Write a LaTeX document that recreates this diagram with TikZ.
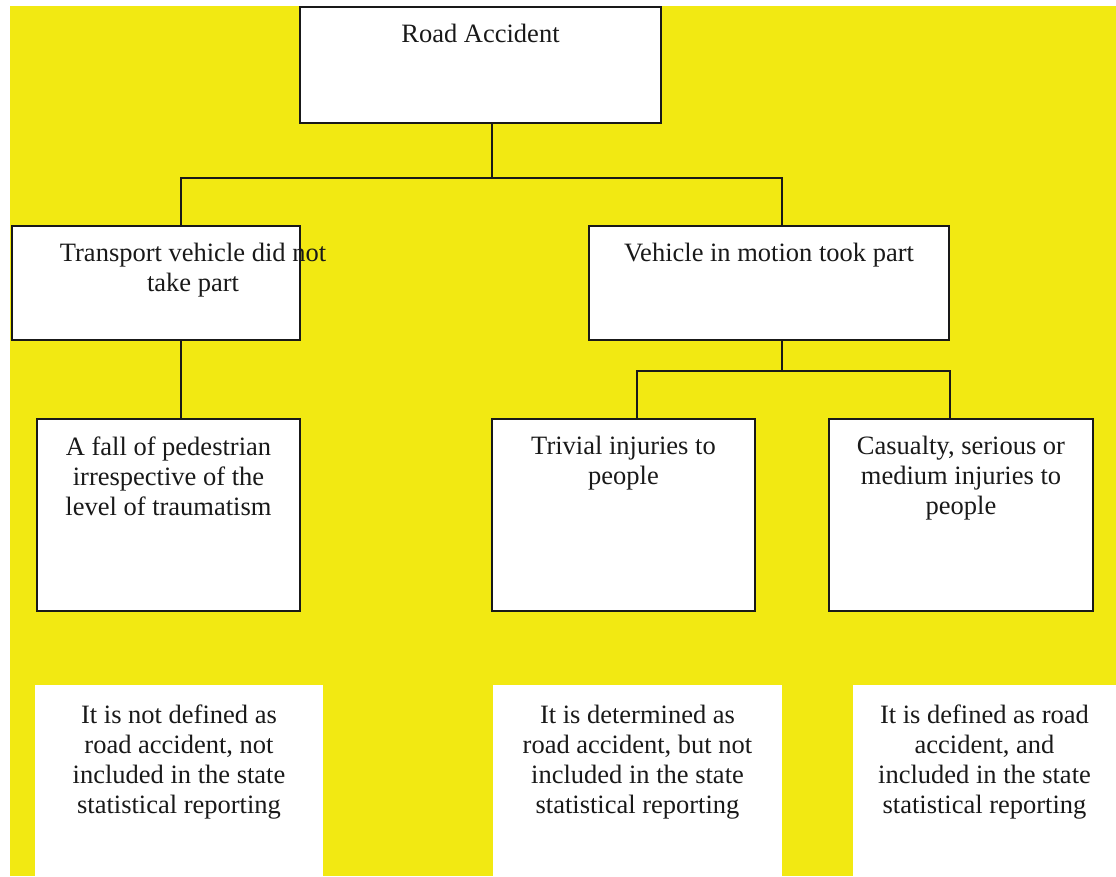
\documentclass[tikz,border=0pt]{standalone}
\usepackage{fontspec}
\setmainfont{Liberation Serif}
\definecolor{bgyellow}{RGB}{242,233,18}
\definecolor{inkgray}{RGB}{25,25,25}

\begin{document}
\begin{tikzpicture}[x=1pt,y=-1pt,
    box/.style 2 args={draw=inkgray, line width=1.6pt, fill=white,
      minimum width=#1, minimum height=#2, inner sep=0pt},
    plain/.style 2 args={fill=white, minimum width=#1, minimum height=#2, inner sep=0pt},
    txt/.style={anchor=north, inner sep=0pt, yshift=-18pt, align=center,
      text=inkgray, font=\fontsize{26.5}{30}\selectfont},
    conn/.style={draw=inkgray, line width=1.6pt}]

            % page and yellow sheet
            \useasboundingbox (0,0) rectangle (1116,876);
            \fill[white] (0,0) rectangle (1116,876);
            \fill[bgyellow] (10,6) rectangle (1116,876);

            % boxes
            \node[box={361}{116}] (acc) at (480.5,65) {};
            \node[box={288}{114}] (nopart) at (156,283) {};
            \node[box={360}{114}] (motion) at (769,283) {};
            \node[box={263}{192}] (fall) at (168.5,515) {};
            \node[box={263}{192}] (trivial) at (623.5,515) {};
            \node[box={264}{192}] (casualty) at (961,515) {};

            % verdicts
            \node[plain={288}{191}] (notroad) at (179,780.5) {};
            \node[plain={289}{191}] (notstat) at (637.5,780.5) {};
            \node[plain={263}{191}] (instat) at (984.5,780.5) {};

            % texts
            \node[txt] (acc-t) at (acc.north) {Road Accident};
            \node[txt, xshift=37pt] (nopart-t) at (nopart.north) {Transport vehicle did not\\take part};
            \node[txt] (motion-t) at (motion.north) {Vehicle in motion took part};
            \node[txt] (fall-t) at (fall.north) {A fall of pedestrian\\irrespective of the\\level of traumatism};
            \node[txt] (trivial-t) at (trivial.north) {Trivial injuries to\\people};
            \node[txt] (casualty-t) at (casualty.north) {Casualty, serious or\\medium injuries to\\people};
            \node[txt, yshift=-2pt] (notroad-t) at (notroad.north) {It is not defined as\\road accident, not\\included in the state\\statistical reporting};
            \node[txt, yshift=-2pt] (notstat-t) at (notstat.north) {It is determined as\\road accident, but not\\included in the state\\statistical reporting};
            \node[txt, yshift=-2pt] (instat-t) at (instat.north) {It is defined as road\\accident, and\\included in the state\\statistical reporting};

            % connectors
            \coordinate (split1) at (492,178);
            \coordinate (split2) at (782,371);
            \draw[conn] ([xshift=11.5pt]acc.south) -- (split1);
            \draw[conn] ([xshift=25pt]nopart.north) |- (split1) -| ([xshift=13pt]motion.north);
            \draw[conn] ([xshift=25pt]nopart.south) -- ([xshift=12.5pt]fall.north);
            \draw[conn] ([xshift=13pt]motion.south) -- (split2);
            \draw[conn] ([xshift=13.5pt]trivial.north) |- (split2) -| ([xshift=-11pt]casualty.north);
        \end{tikzpicture}
\end{document}
